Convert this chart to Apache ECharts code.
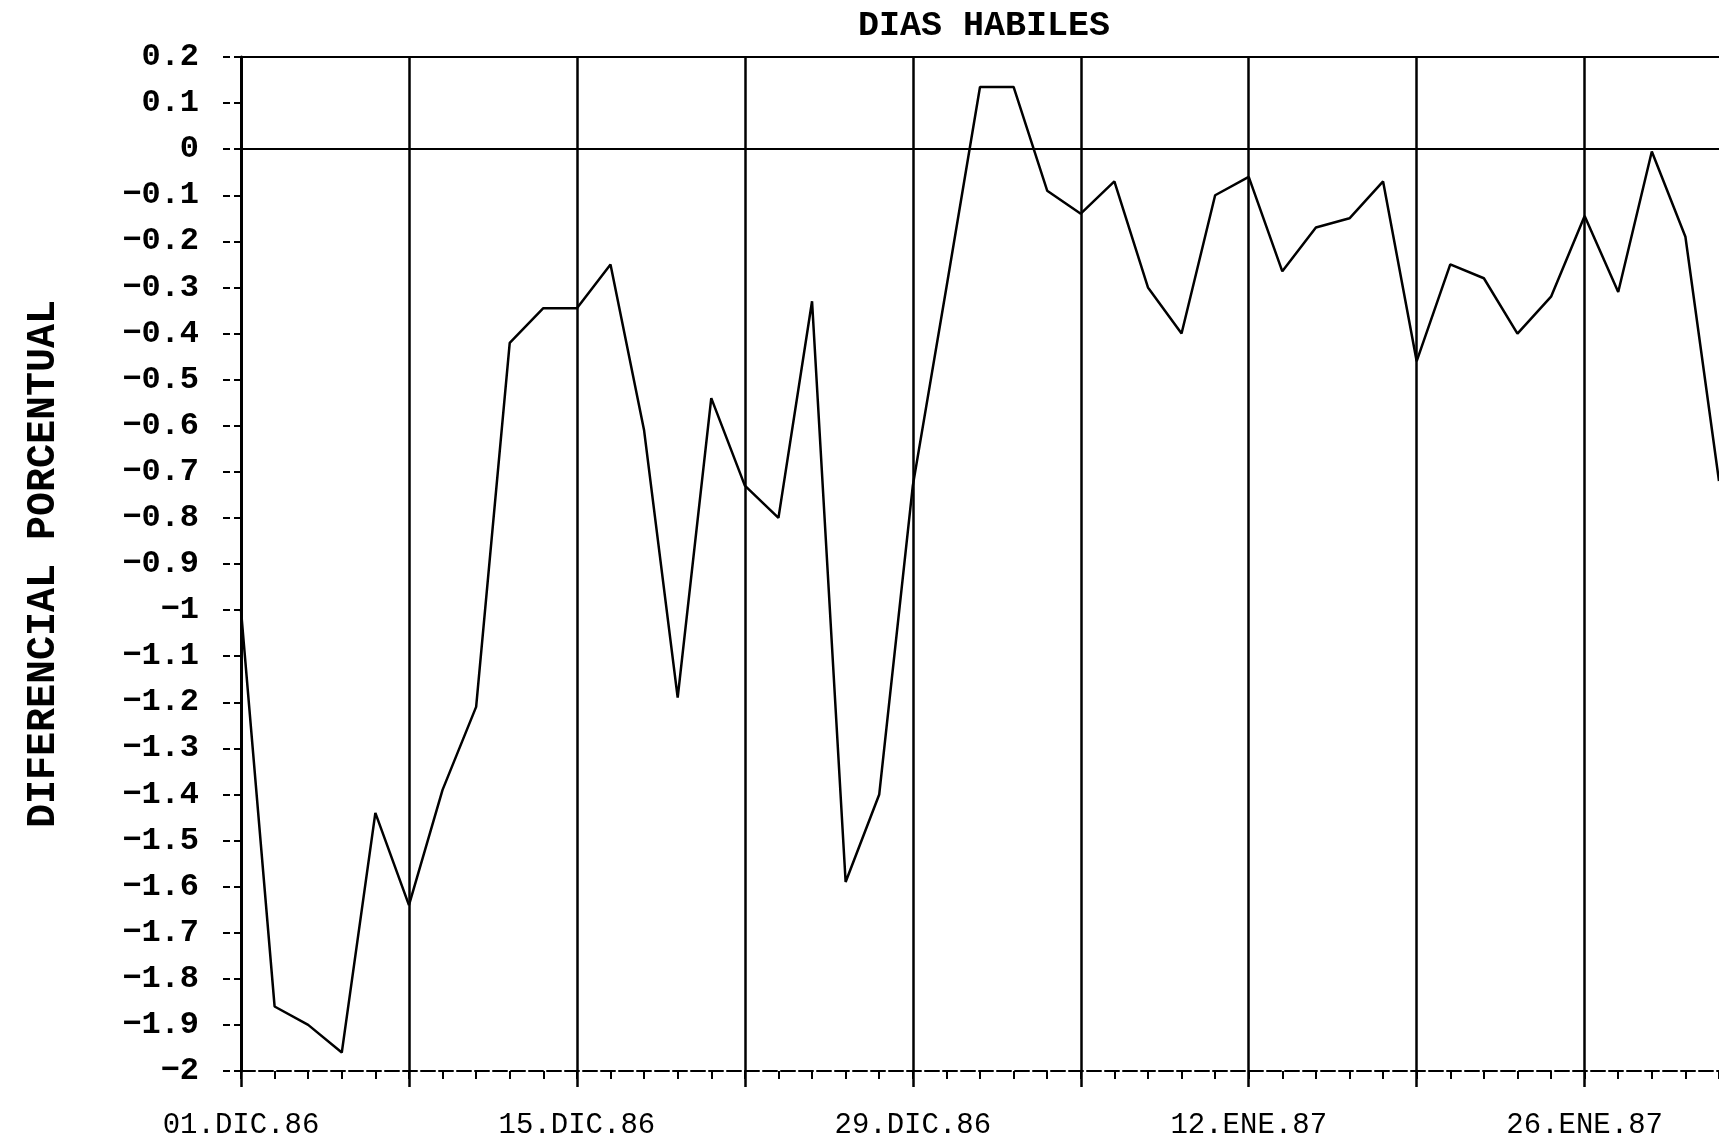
<!DOCTYPE html>
<html>
<head>
<meta charset="utf-8">
<script src="https://cdn.jsdelivr.net/npm/echarts@6/dist/echarts.min.js"></script>
<style>
html,body{margin:0;padding:0;background:#fff;}
#chart{width:1719px;height:1140px;}
</style>
</head>
<body>
<div id="chart"></div>
<script>
// Business days (weekdays) from 01.DIC.86 to 30.ENE.87
var days = [
  "01.DIC.86","02.DIC.86","03.DIC.86","04.DIC.86","05.DIC.86",
  "08.DIC.86","09.DIC.86","10.DIC.86","11.DIC.86","12.DIC.86",
  "15.DIC.86","16.DIC.86","17.DIC.86","18.DIC.86","19.DIC.86",
  "22.DIC.86","23.DIC.86","24.DIC.86","25.DIC.86","26.DIC.86",
  "29.DIC.86","30.DIC.86","31.DIC.86","01.ENE.87","02.ENE.87",
  "05.ENE.87","06.ENE.87","07.ENE.87","08.ENE.87","09.ENE.87",
  "12.ENE.87","13.ENE.87","14.ENE.87","15.ENE.87","16.ENE.87",
  "19.ENE.87","20.ENE.87","21.ENE.87","22.ENE.87","23.ENE.87",
  "26.ENE.87","27.ENE.87","28.ENE.87","29.ENE.87","30.ENE.87"
];

// Percentage differential
var diferencial = [
  -1.00, -1.86, -1.90, -1.96, -1.44,
  -1.64, -1.39, -1.21, -0.42, -0.345,
  -0.345, -0.25, -0.61, -1.19, -0.54,
  -0.73, -0.80, -0.33, -1.59, -1.40,
  -0.73, -0.30, 0.135, 0.135, -0.09,
  -0.14, -0.07, -0.30, -0.40, -0.10,
  -0.06, -0.265, -0.17, -0.15, -0.07,
  -0.46, -0.25, -0.28, -0.40, -0.32,
  -0.145, -0.31, -0.005, -0.19, -0.72
];

// Reference horizontal lines
var refLines = [0, 0.2];

var titleText = "DIAS HABILES";
var yName = "DIFERENCIAL PORCENTUAL";

var chart = echarts.init(document.getElementById('chart'), null, {renderer: 'canvas'});
var mono = "'Liberation Mono', 'Courier New', monospace";

chart.setOption({
  backgroundColor: '#ffffff',
  animation: false,
  title: {
    text: titleText,
    left: 853,
    top: 4,
    textStyle: {fontFamily: mono, fontWeight: 'bold', fontSize: 35, color: '#000'}
  },
  grid: {left: 241, top: 57, width: 1478, height: 1015, containLabel: false},
  xAxis: [
    {
      type: 'category',
      data: days,
      boundaryGap: false,
      position: 'bottom',
      axisLine: {show: true, onZero: false, lineStyle: {color: '#000', width: 2, type: [14, 4]}},
      axisTick: {show: true, interval: 0, length: 8, lineStyle: {color: '#000', width: 2}},
      axisLabel: {
        show: true,
        interval: function (i) { return i % 10 === 0; },
        margin: 40,
        fontFamily: mono,
        fontSize: 29,
        color: '#000'
      },
      splitLine: {
        show: true,
        interval: function (i) { return i % 5 === 0; },
        lineStyle: {color: '#000', width: 2.5}
      }
    },
    {
      type: 'category',
      data: days,
      boundaryGap: false,
      position: 'bottom',
      axisLine: {show: false, onZero: false},
      axisTick: {show: true, interval: function (i) { return i % 5 === 0; }, length: 16, lineStyle: {color: '#000', width: 2.5}},
      axisLabel: {show: false},
      splitLine: {show: false}
    }
  ],
  yAxis: {
    type: 'value',
    min: -2,
    max: 0.2,
    interval: 0.1,
    name: yName,
    nameLocation: 'middle',
    nameRotate: 90,
    nameGap: 177,
    nameTextStyle: {fontFamily: mono, fontWeight: 'bold', fontSize: 40, color: '#000'},
    axisLine: {show: true, lineStyle: {color: '#000', width: 3}},
    axisTick: {show: true, length: 22, lineStyle: {color: '#000', width: 2, type: [7, 4]}},
    axisLabel: {
      margin: 42,
      fontFamily: mono,
      fontWeight: 'bold',
      fontSize: 32,
      color: '#000',
      formatter: function (v) {
        var s = String(Math.round(v * 10) / 10);
        return s.replace('-', '\u2212');
      }
    },
    splitLine: {show: false}
  },
  series: [{
    type: 'line',
    data: diferencial,
    xAxisIndex: 0,
    symbol: 'none',
    smooth: false,
    lineStyle: {color: '#000', width: 2.5},
    markLine: {
      silent: true,
      symbol: 'none',
      label: {show: false},
      lineStyle: {color: '#000', width: 2, type: 'solid'},
      data: refLines.map(function (v) { return {yAxis: v}; })
    }
  }]
});
</script>
</body>
</html>
